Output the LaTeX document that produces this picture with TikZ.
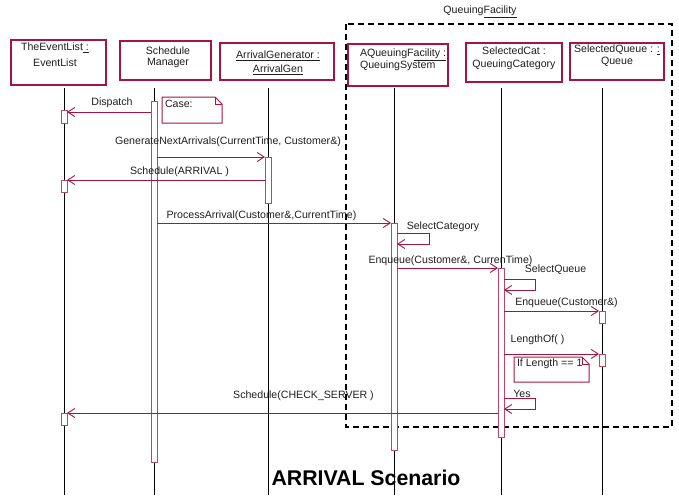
\documentclass[tikz,border=0pt]{standalone}
\usepackage{fontspec}
\setmainfont{Liberation Sans}
\usetikzlibrary{arrows.meta}
\definecolor{umlred}{RGB}{163,22,64}
\definecolor{actred}{RGB}{186,70,106}
\begin{document}
\begin{tikzpicture}[x=1pt,y=-1pt,
  every node/.style={font=\fontsize{10.6}{12.5}\selectfont, inner sep=0pt, outer sep=0pt},
  objbox/.style={draw=umlred, line width=1.3pt, fill=white, anchor=north west},
  objtext/.style={align=center, text=black!88},
  act/.style={draw=actred, line width=1pt, fill=white, anchor=north west, minimum width=6pt},
  life/.style={black, line width=0.7pt},
  msg/.style={umlred, line width=0.9pt, -{Straight Barb[length=7pt,width=9pt]}},
  lbl/.style={text=black!88},
  notearea/.style={anchor=north west},
  notebox/.style={umlred, line width=1pt, fill=white},
  frame/.style={black, line width=1.6pt, dash pattern=on 6pt off 4pt},
]
\useasboundingbox (0,0) rectangle (679,495);

% facility frame
\node[notearea, minimum width=326pt, minimum height=403pt] (fac) at (346,24) {};
\draw[frame] (fac.north west) rectangle (fac.south east);
\node[lbl] (facT) at (480,12) {Queuing\underline{Facility}};

% object boxes
\node[objbox, minimum width=95pt, minimum height=45pt] (el) at (11,40) {};
\node[objtext] (elT) at (55,55) {TheEventList\underline{\ :}\\[3.5pt]EventList};
\node[objbox, minimum width=91pt, minimum height=39pt] (sm) at (120,41) {};
\node[objtext] (smT) at (168,57.5) {Schedule\\[-1.5pt]Manager};
\node[objbox, minimum width=114pt, minimum height=37pt] (ag) at (220,43) {};
\node[objtext] (agT) at (278,63) {\underline{ArrivalGenerator :}\\[1.5pt]\underline{ArrivalGen}};
\node[objbox, minimum width=100pt, minimum height=42pt] (aq) at (348,44) {};
\node[objtext, align=left, anchor=west] (aqT) at (360,60) {AQueuingF\underline{acility :}\\[-0.5pt]QueuingSystem};
\node[objbox, minimum width=96pt, minimum height=39pt] (sc) at (466,43) {};
\node[objtext] (scT) at (514,58.5) {SelectedCat :\\[0.5pt]QueuingCategory};
\node[objbox, minimum width=94pt, minimum height=37pt] (sq) at (570,43) {};
\node[objtext] (sqT) at (617,56) {SelectedQueue : \underline{:}\\[-0.5pt]Queue};

% lifelines
\foreach \n/\x in {el/64, sm/154, ag/268, aq/394, sc/501, sq/602}{
  \coordinate (\n Top) at (\x,88);
  \coordinate (\n Bot) at (\x,495);
  \draw[life] (\n Top) -- (\n Bot);
}

% activations
\node[act, minimum height=361pt] (smA) at (151,101) {};
\node[act, minimum height=13pt] (elA1) at (61,110) {};
\node[act, minimum height=12pt] (elA2) at (61,180) {};
\node[act, minimum height=12pt] (elA3) at (61,413) {};
\node[act, minimum height=46pt] (agA) at (265,157) {};
\node[act, minimum height=227pt] (aqA) at (391,223) {};
\node[act, minimum height=169pt] (scA) at (498,268) {};
\node[act, minimum height=12pt] (sqA1) at (599,311) {};
\node[act, minimum height=12pt] (sqA2) at (599,354) {};

% notes
\node[notearea, minimum width=60pt, minimum height=26pt] (caseN) at (162,97) {};
\draw[notebox] (caseN.north west) -- ([xshift=-7pt]caseN.north east) -- ([yshift=-7pt]caseN.north east)
  -- (caseN.south east) -- (caseN.south west) -- cycle;
\draw[umlred, line width=0.8pt] ([xshift=-7pt]caseN.north east) -- ([xshift=-7pt,yshift=-7pt]caseN.north east) -- ([yshift=-7pt]caseN.north east);
\node[lbl, anchor=west] (caseT) at (165,104) {Case:};

\node[notearea, minimum width=75pt, minimum height=25pt] (ifN) at (514,357) {};
\draw[notebox] (ifN.north west) -- ([xshift=-7pt]ifN.north east) -- ([yshift=-7pt]ifN.north east)
  -- (ifN.south east) -- (ifN.south west) -- cycle;
\draw[umlred, line width=0.8pt] ([xshift=-7pt]ifN.north east) -- ([xshift=-7pt,yshift=-7pt]ifN.north east) -- ([yshift=-7pt]ifN.north east);
\node[lbl, anchor=west] (ifT) at (517,364) {If Length == 1};

% messages
\draw[msg] (smA.west |- 0,112) -- (elA1.east |- 0,112);
\node[lbl] (mDispatch) at (112,103) {Dispatch};

\draw[msg] (smA.east |- 0,157) -- (agA.west |- 0,157);
\node[lbl] (mGen) at (228,142) {GenerateNextArrivals(CurrentTime, Customer\&)};

\draw[msg] (agA.west |- 0,180) -- (elA2.east |- 0,180);
\node[lbl] (mSchedA) at (179.5,172) {Schedule(ARRIVAL )};

\draw[msg] (smA.east |- 0,223) -- (aqA.west |- 0,223);
\node[lbl] (mProc) at (261.5,216) {ProcessArrival(Customer\&,CurrentTime)};

\draw[msg] (aqA.east |- 0,233) -- ++(32,0) -- ++(0,11) -- (aqA.east |- 0,244);
\node[lbl] (mSelCat) at (443,227) {SelectCategory};

\draw[msg] (aqA.east |- 0,268) -- (scA.west |- 0,268);
\node[lbl] (mEnq1) at (450.5,261) {Enqueue(Customer\&, CurrenTime)};

\draw[msg] (scA.east |- 0,279) -- ++(31,0) -- ++(0,11) -- (scA.east |- 0,290);
\node[lbl] (mSelQ) at (555.5,270) {SelectQueue};

\draw[msg] (scA.east |- 0,311) -- (sqA1.west |- 0,311);
\node[lbl] (mEnq2) at (566.5,303) {Enqueue(Customer\&)};

\draw[msg] (scA.east |- 0,354) -- (sqA2.west |- 0,354);
\node[lbl] (mLen) at (537.5,340) {LengthOf( )};

\draw[msg] (scA.east |- 0,398) -- ++(31,0) -- ++(0,11) -- (scA.east |- 0,409);
\node[lbl] (mYes) at (522,394) {Yes};

\draw[msg] (scA.west |- 0,413) -- (elA3.east |- 0,413);
\node[lbl] (mSchedC) at (303.5,396) {Schedule(CHECK\_SERVER )};

% title
\node[font=\fontsize{21.3}{25}\selectfont\bfseries] (title) at (366,478) {ARRIVAL Scenario};
\end{tikzpicture}
\end{document}
